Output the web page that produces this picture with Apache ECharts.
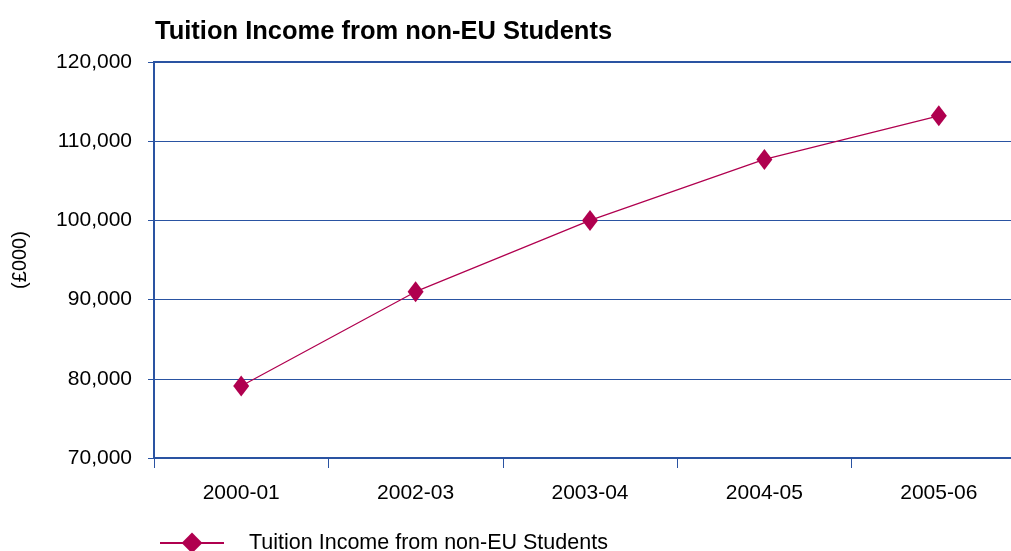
<!DOCTYPE html>
<html>
<head>
<meta charset="utf-8">
<script src="https://cdn.jsdelivr.net/npm/echarts@6/dist/echarts.min.js"></script>
<style>
  html, body { margin: 0; padding: 0; background: #fff; }
  #chart { width: 1011px; height: 551px; }
</style>
</head>
<body>
<div id="chart"></div>
<script>
// Academic years shown on the category axis
const years = ['2000-01', '2002-03', '2003-04', '2004-05', '2005-06'];
// Tuition income from non-EU students, in £000
const income = [79100, 91000, 100000, 107700, 113200];
// Value axis range
const yMin = 70000;
const yMax = 120000;
const yStep = 10000;

const seriesName = 'Tuition Income from non-EU Students';
const blue = '#2a53a2';
const crimson = '#b0004f';
const font = 'Liberation Sans, Arial, Helvetica, sans-serif';

const chart = echarts.init(document.getElementById('chart'));
chart.setOption({
  backgroundColor: '#ffffff',
  animation: false,
  title: {
    text: seriesName,
    left: 150,
    top: 14,
    textStyle: { fontFamily: font, fontSize: 25.5, fontWeight: 'bold', color: '#000' }
  },
  grid: {
    left: 154,
    top: 62,
    width: 872,
    height: 396,
    outerBoundsMode: 'none',
    containLabel: false,
    show: true,
    borderColor: blue,
    borderWidth: 2,
    backgroundColor: 'transparent'
  },
  legend: {
    left: 154,
    top: 527,
    itemWidth: 64,
    itemHeight: 26,
    data: [seriesName],
    textStyle: { fontFamily: font, fontSize: 21.5, color: '#000', padding: [0, 0, 0, 20] }
  },
  xAxis: {
    type: 'category',
    data: years,
    boundaryGap: true,
    axisLine: { lineStyle: { color: blue, width: 2 } },
    axisTick: { show: true, length: 10, lineStyle: { color: blue, width: 1 } },
    axisLabel: { margin: 25, fontFamily: font, fontSize: 21, color: '#000' },
    splitLine: { show: false }
  },
  yAxis: {
    type: 'value',
    min: yMin,
    max: yMax,
    interval: yStep,
    name: '(£000)',
    nameLocation: 'middle',
    nameGap: 124,
    nameRotate: 90,
    nameTextStyle: { fontFamily: font, fontSize: 20, color: '#000' },
    axisLine: { show: true, lineStyle: { color: blue, width: 2 } },
    axisTick: { show: true, length: 6, lineStyle: { color: blue, width: 1 } },
    axisLabel: {
      margin: 22,
      fontFamily: font,
      fontSize: 21,
      color: '#000',
      formatter: v => v.toLocaleString('en-GB')
    },
    splitLine: { show: true, lineStyle: { color: blue, width: 1 } }
  },
  series: [{
    name: seriesName,
    type: 'line',
    data: income,
    symbol: 'diamond',
    symbolSize: [16, 21],
    itemStyle: { color: crimson },
    lineStyle: { color: crimson, width: 1.2 }
  }]
});
</script>
</body>
</html>
